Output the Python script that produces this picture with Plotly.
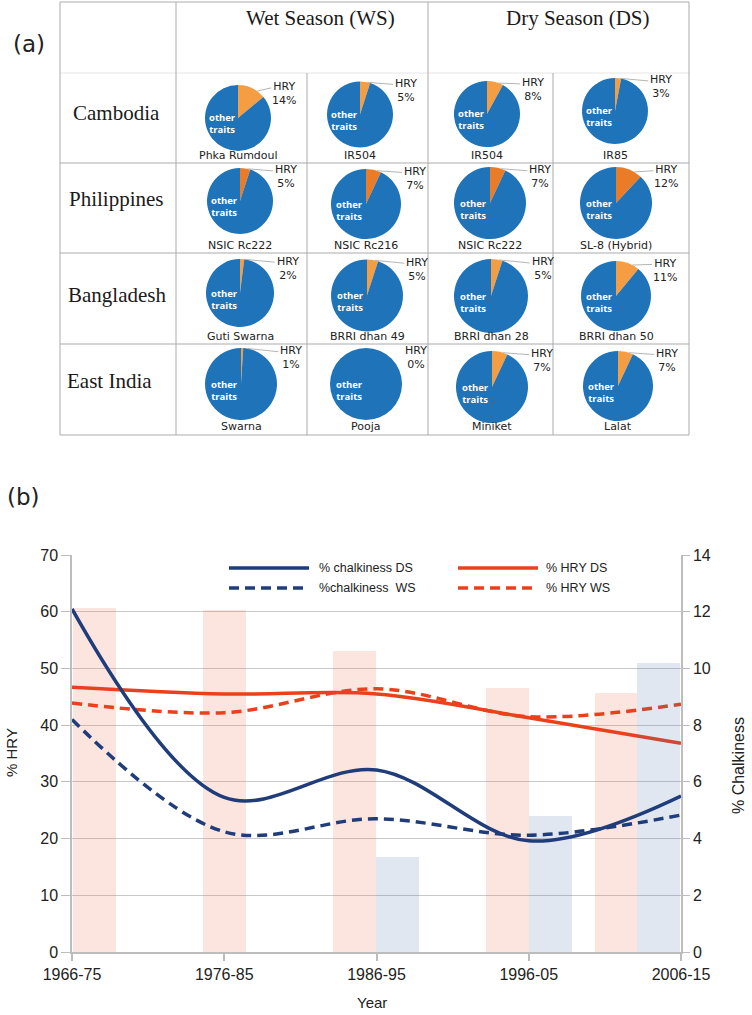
import math
import plotly.graph_objects as go

W, H = 752, 1015
OFF = 0  # body margin removed via post_script below

# ---------------- data: panel (a) ----------------
countries = ["Cambodia", "Philippines", "Bangladesh", "East India"]
seasons = ["Wet Season (WS)", "Dry Season (DS)"]
varieties = [
    ["Phka Rumdoul", "IR504", "IR504", "IR85"],
    ["NSIC Rc222", "NSIC Rc216", "NSIC Rc222", "SL-8 (Hybrid)"],
    ["Guti Swarna", "BRRI dhan 49", "BRRI dhan 28", "BRRI dhan 50"],
    ["Swarna", "Pooja", "Miniket", "Lalat"],
]
hry_share = [
    [14, 5, 8, 3],
    [5, 7, 7, 12],
    [2, 5, 5, 11],
    [1, 0, 7, 7],
]

# ---------------- data: panel (b) ----------------
decades = ["1966-75", "1976-85", "1986-95", "1996-05", "2006-15"]
decade_pos = [0, 1, 2, 3, 4]
chalk_ds = [12.1, 5.45, 6.42, 3.92, 5.5]
chalk_ws = [8.2, 4.24, 4.7, 4.12, 4.83]
hry_ds = [46.7, 45.5, 45.5, 41.3, 36.8]
hry_ws = [43.9, 42.2, 46.4, 41.5, 43.7]
pink_bar_pos = [0.145, 1.0, 1.855, 2.86, 3.573]
pink_bar_val = [60.7, 60.3, 53.0, 46.6, 45.7]
blue_bar_pos = [2.138, 3.143, 3.855]
blue_bar_val = [3.35, 4.8, 10.2]

# ---------------- layout helpers ----------------
def X(px):
    return (px - OFF) / W

def Y(py):
    return 1 - (py - OFF) / H

BLUE = "#1F73B8"
ORANGE_LIGHT = "#F49D42"
ORANGE_DARK = "#EA7B27"
row_orange = [ORANGE_LIGHT, ORANGE_DARK, ORANGE_LIGHT, ORANGE_LIGHT]

# pie centres / radii (px) per cell
pie_geom = [
    [(238, 118, 33), (360, 114.5, 33), (487, 114, 33), (615, 111, 33)],
    [(240, 201, 33), (366, 204, 35), (490, 203, 36), (616, 203, 36)],
    [(240, 293, 34), (367, 295.5, 36), (491, 296, 37), (616, 296, 35)],
    [(241, 384, 36), (366, 384, 36), (492, 387, 36), (618, 386, 35)],
]
row_bottoms = [163, 253, 344, 435]
country_x = [71, 67, 66, 65]
country_y = [113, 199, 295, 381]

fig = go.Figure()
shapes = []
annotations = []

# table grid
GRID = "#ababab"
def hline(y, x0, x1, color=GRID, w=1):
    shapes.append(dict(type="line", xref="paper", yref="paper", x0=X(x0), x1=X(x1),
                       y0=Y(y), y1=Y(y), line=dict(color=color, width=w), layer="below"))

def vline(x, y0, y1, color=GRID, w=1):
    shapes.append(dict(type="line", xref="paper", yref="paper", x0=X(x), x1=X(x),
                       y0=Y(y0), y1=Y(y1), line=dict(color=color, width=w), layer="below"))

hline(2, 60, 689)
hline(73, 60, 689, color="#e6e6e6")
for yb in row_bottoms:
    hline(yb, 60, 689)
for xv in [60, 176, 428, 689]:
    vline(xv, 2, 435)
for xv in [307, 553]:
    vline(xv, 73, 435)

# headers
for txt, cx in zip(seasons, [320, 577]):
    annotations.append(dict(text=txt, x=X(cx), y=Y(18), xref="paper", yref="paper",
                            showarrow=False, xanchor="center", yanchor="middle",
                            font=dict(family="Liberation Serif", size=21, color="#1a1a1a")))
for name, cx, cy in zip(countries, country_x, country_y):
    annotations.append(dict(text=name, x=X(cx), y=Y(cy), xref="paper", yref="paper",
                            showarrow=False, xanchor="left", yanchor="middle",
                            font=dict(family="Liberation Serif", size=21, color="#1a1a1a")))

annotations.append(dict(text="(a)", x=X(29), y=Y(44), xref="paper", yref="paper", showarrow=False,
                        xanchor="center", yanchor="middle",
                        font=dict(family="DejaVu Sans", size=23, color="#222")))
annotations.append(dict(text="(b)", x=X(23), y=Y(497), xref="paper", yref="paper", showarrow=False,
                        xanchor="center", yanchor="middle",
                        font=dict(family="DejaVu Sans", size=23, color="#222")))

for r_i in range(4):
    for c_i in range(4):
        cx, cy, r = pie_geom[r_i][c_i]
        v = hry_share[r_i][c_i]
        fig.add_trace(go.Pie(
            values=[v, 100 - v], labels=["HRY", "other traits"],
            marker=dict(colors=[row_orange[r_i], BLUE], line=dict(width=0)),
            sort=False, direction="clockwise", rotation=0,
            textinfo="none", hoverinfo="skip", showlegend=False, automargin=False,
            domain=dict(x=[X(cx - r), X(cx + r)], y=[Y(cy + r), Y(cy - r)]),
        ))
        tx, ty = cx + 1.4 * r, cy - 0.73 * r
        annotations.append(dict(text=f"HRY<br>{v}%", x=X(tx), y=Y(ty), xref="paper", yref="paper",
                                showarrow=False, xanchor="center", yanchor="middle",
                                font=dict(family="DejaVu Sans", size=11, color="#222")))
        if v > 0:
            ang = math.radians(max(0.7 * v * 3.6, 8))
            hx, hy = cx + r * math.sin(ang), cy - r * math.cos(ang)
            shapes.append(dict(type="line", xref="paper", yref="paper",
                               x0=X(hx), y0=Y(hy), x1=X(tx - 13), y1=Y(ty - 6),
                               line=dict(color="#b5b5b5", width=1)))
        annotations.append(dict(text="<b>other<br>traits</b>", x=X(cx - 0.47 * r), y=Y(cy + 0.18 * r),
                                xref="paper", yref="paper", showarrow=False,
                                xanchor="center", yanchor="middle",
                                font=dict(family="Open Sans", size=9.5, color="white")))
        annotations.append(dict(text=varieties[r_i][c_i], x=X(cx), y=Y(row_bottoms[r_i] - 8),
                                xref="paper", yref="paper", showarrow=False,
                                xanchor="center", yanchor="middle",
                                font=dict(family="DejaVu Sans", size=11, color="#222")))

# ---------------- panel (b) ----------------
NAVY = "#1F3C7B"
RED = "#EA401B"
BAR_W = 0.282

fig.add_trace(go.Bar(x=pink_bar_pos, y=pink_bar_val, width=BAR_W, yaxis="y", xaxis="x",
                     marker=dict(color="rgba(240,120,95,0.2)", line=dict(width=0)),
                     showlegend=False, hoverinfo="skip"))
fig.add_trace(go.Bar(x=blue_bar_pos, y=blue_bar_val, width=BAR_W, yaxis="y2", xaxis="x",
                     marker=dict(color="rgba(70,110,170,0.17)", line=dict(width=0)),
                     showlegend=False, hoverinfo="skip"))

DASH = "10px,6px"
fig.add_trace(go.Scatter(x=decade_pos, y=hry_ds, mode="lines", yaxis="y", name="% HRY DS",
                         line=dict(color=RED, width=3.5, shape="spline", smoothing=1), showlegend=False))
fig.add_trace(go.Scatter(x=decade_pos, y=hry_ws, mode="lines", yaxis="y", name="% HRY WS",
                         line=dict(color=RED, width=3.5, shape="spline", smoothing=1, dash=DASH),
                         showlegend=False))
fig.add_trace(go.Scatter(x=decade_pos, y=chalk_ds, mode="lines", yaxis="y2", name="% chalkiness DS",
                         line=dict(color=NAVY, width=3.5, shape="spline", smoothing=1), showlegend=False))
fig.add_trace(go.Scatter(x=decade_pos, y=chalk_ws, mode="lines", yaxis="y2", name="%chalkiness  WS",
                         line=dict(color=NAVY, width=3.5, shape="spline", smoothing=1, dash=DASH),
                         showlegend=False))

# manual legend
leg = [
    (229, 309, 568, NAVY, "solid", "% chalkiness DS", 317),
    (229, 309, 588, NAVY, DASH, "%chalkiness  WS", 317),
    (458, 538, 568, RED, "solid", "% HRY DS", 544),
    (458, 538, 588, RED, DASH, "% HRY WS", 544),
]
for x0, x1, yy, col, dsh, txt, tx in leg:
    shapes.append(dict(type="line", xref="paper", yref="paper", x0=X(x0), x1=X(x1), y0=Y(yy), y1=Y(yy),
                       line=dict(color=col, width=3.3, dash=dsh)))
    annotations.append(dict(text=txt.replace("  ", "&nbsp; "), x=X(tx), y=Y(yy), xref="paper", yref="paper",
                            showarrow=False, xanchor="left", yanchor="middle",
                            font=dict(family="Liberation Sans", size=12.5, color="#222")))

# axis titles
annotations.append(dict(text="% HRY", x=X(11), y=Y(753), xref="paper", yref="paper", showarrow=False,
                        textangle=-90, xanchor="center", yanchor="middle",
                        font=dict(family="Liberation Sans", size=15, color="#222")))
annotations.append(dict(text="% Chalkiness", x=X(738), y=Y(766), xref="paper", yref="paper", showarrow=False,
                        textangle=-90, xanchor="center", yanchor="middle",
                        font=dict(family="Liberation Sans", size=16, color="#222")))
annotations.append(dict(text="Year", x=X(372), y=Y(1002), xref="paper", yref="paper", showarrow=False,
                        xanchor="center", yanchor="middle",
                        font=dict(family="Liberation Sans", size=15, color="#222")))

AX = "#bdbdbd"
tickfont = dict(family="Liberation Sans", size=16, color="#222")
fig.update_layout(
    template="none",
    width=W, height=H,
    margin=dict(l=0, r=0, t=0, b=0, pad=0, autoexpand=False),
    paper_bgcolor="white", plot_bgcolor="white",
    barmode="overlay", bargap=0,
    shapes=shapes, annotations=annotations,
    xaxis=dict(domain=[X(72), X(681)], range=[0, 4], tickvals=decade_pos, ticktext=decades,
               showgrid=False, zeroline=False, showline=True, linecolor=AX, linewidth=1.5,
               ticks="outside", ticklen=7, tickcolor=AX, tickwidth=1.5, tickfont=tickfont,
               anchor="y", automargin=False),
    yaxis=dict(domain=[Y(952), Y(555)], range=[0, 70], dtick=10, showgrid=True, gridcolor="#c9c9c9",
               gridwidth=1.3, zeroline=False, showline=True, linecolor=AX, linewidth=1.5,
               ticks="outside", ticklen=9, tickcolor=AX, tickwidth=1.3, tickfont=tickfont,
               anchor="x", automargin=False),
    yaxis2=dict(domain=[Y(952), Y(555)], range=[0, 14], dtick=2, overlaying="y", side="right",
                showgrid=False, zeroline=False, showline=True, linecolor=AX, linewidth=1.5,
                ticks="outside", ticklen=7, tickcolor=AX, tickwidth=1.3, tickfont=tickfont,
                anchor="x", automargin=False),
)

fig.write_html("out.html", config={"displayModeBar": False},
               post_script="document.body.style.margin='0px';document.body.style.overflow='hidden';")
